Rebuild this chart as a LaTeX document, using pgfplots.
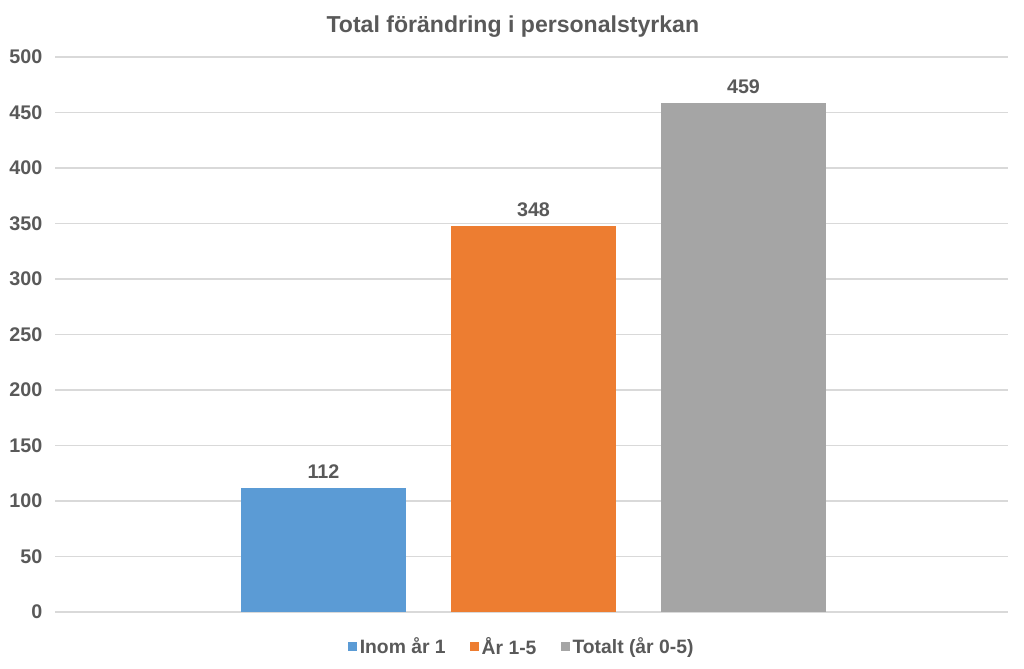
\documentclass[border=0pt]{standalone}
\usepackage{fontspec}
\setmainfont{Liberation Sans}
\usepackage{pgfplots}
\pgfplotsset{compat=1.18}

\definecolor{txt}{HTML}{595959}
\definecolor{gridc}{HTML}{D9D9D9}
\definecolor{cblue}{HTML}{5B9BD5}
\definecolor{corange}{HTML}{ED7D31}
\definecolor{cgray}{HTML}{A5A5A5}

\begin{document}
\begin{tikzpicture}[x=1pt,y=1pt]
\begin{axis}[
    name=main,
    scale only axis,
    width=714.75pt, height=416.25pt,
    xmin=-2.2786, xmax=2.2595,
    ymin=0, ymax=500,
    ytick={0,50,...,500},
    xtick=\empty,
    ymajorgrids,
    grid style={gridc, line width=0.9pt},
    axis line style={draw=none},
    major tick length=0pt,
    tick label style={font=\fontsize{14.8}{17}\selectfont\bfseries, text=txt},
    yticklabel style={xshift=-6pt},
    /pgf/number format/assume math mode=true,
    title={Total förändring i personalstyrkan},
    title style={font=\fontsize{17.3}{20}\selectfont\bfseries, text=txt, yshift=5pt, xshift=-14pt},
    ybar, bar shift=0pt, bar width=0.7857,
    nodes near coords,
    every node near coord/.append style={font=\fontsize{14.8}{17}\selectfont\bfseries, text=txt, yshift=3pt},
    legend style={at={(0.49,-0.035)}, anchor=north, draw=none, legend columns=-1,
        font=\fontsize{14.5}{17}\selectfont\bfseries, text=txt,
        /tikz/every even column/.append style={column sep=16pt}},
    legend image code/.code={\fill[#1] (0pt,-3.6pt) rectangle (7pt,3.4pt);},
]
\addplot[fill=cblue, draw=none] coordinates {(-1,112)};
\addlegendentry{Inom år 1}
\addplot[fill=corange, draw=none] coordinates {(0,348)};
\addlegendentry{År 1-5}
\addplot[fill=cgray, draw=none] coordinates {(1,459)};
\addlegendentry{Totalt (år 0-5)}
\end{axis}
\path[use as bounding box] ([xshift=-41.25pt,yshift=-42.75pt]main.south west) rectangle ([xshift=12pt,yshift=42.75pt]main.north east);
\end{tikzpicture}
\end{document}
